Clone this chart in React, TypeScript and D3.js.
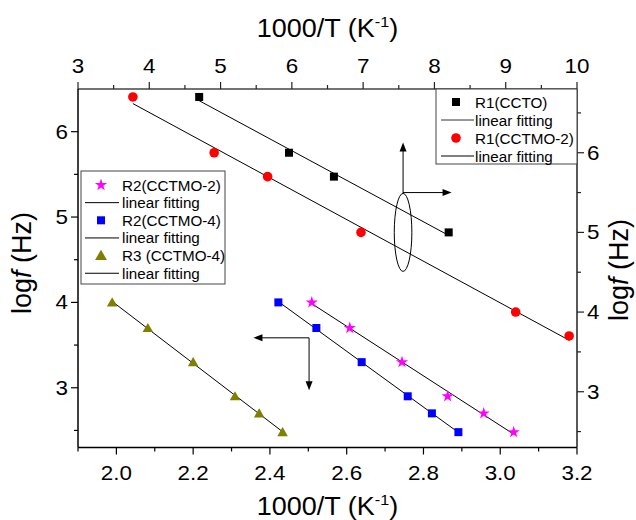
import React from "react";
import * as d3 from "d3";

// R1 relaxations: plotted against the top (1000/T) and right (log f) axes
const r1CctoX = [4.7, 5.96, 6.59, 8.2];
const r1CctoY = [6.7, 6.0, 5.7, 5.0];
const r1Cctmo2X = [3.77, 4.91, 5.66, 6.97, 9.14, 9.89];
const r1Cctmo2Y = [6.7, 6.0, 5.7, 5.0, 4.0, 3.7];

// R2 / R3 relaxations: plotted against the bottom (1000/T) and left (log f) axes
const r2Cctmo2X = [2.509, 2.608, 2.744, 2.863, 2.957, 3.035];
const r2Cctmo4X = [2.422, 2.521, 2.639, 2.759, 2.822, 2.891];
const r3Cctmo4X = [1.989, 2.082, 2.2, 2.309, 2.372, 2.433];
const lowLogF = [4.0, 3.7, 3.3, 2.9, 2.7, 2.48];

const bottomTicks = [2.0, 2.2, 2.4, 2.6, 2.8, 3.0, 3.2];
const bottomMinor = [1.9, 2.1, 2.3, 2.5, 2.7, 2.9, 3.1];
const topTicks = [3, 4, 5, 6, 7, 8, 9, 10];
const topMinor = [3.5, 4.5, 5.5, 6.5, 7.5, 8.5, 9.5];
const leftTicks = [3, 4, 5, 6];
const leftMinor = [2.5, 3.5, 4.5, 5.5];
const rightTicks = [3, 4, 5, 6];
const rightMinor = [2.5, 3.5, 4.5, 5.5, 6.5];

const legendHigh = ["R1(CCTO)", "linear fitting", "R1(CCTMO-2)", "linear fitting"];
const legendLow = [
  "R2(CCTMO-2)",
  "linear fitting",
  "R2(CCTMO-4)",
  "linear fitting",
  "R3 (CCTMO-4)",
  "linear fitting",
];

const W = 636;
const H = 520;
const L = 78;
const R = 577;
const T = 89;
const B = 447.5;
const FONT = "'Liberation Sans', Arial, Helvetica, sans-serif";

const xBottom = d3.scaleLinear().domain([1.9, 3.2]).range([L, R]);
const xTop = d3.scaleLinear().domain([3, 10]).range([L, R]);
const yLeft = d3.scaleLinear().domain([2.3, 6.5]).range([B, T]);
const yRight = d3.scaleLinear().domain([2.3, 6.8]).range([B, T]);

function fit(xs: number[], ys: number[]) {
  const mx = d3.mean(xs)!;
  const my = d3.mean(ys)!;
  let num = 0;
  let den = 0;
  xs.forEach((x, i) => {
    num += (x - mx) * (ys[i] - my);
    den += (x - mx) * (x - mx);
  });
  const k = num / den;
  const b = my - k * mx;
  const [x0, x1] = d3.extent(xs) as [number, number];
  return [
    [x0, k * x0 + b],
    [x1, k * x1 + b],
  ];
}

const COL = {
  black: "#000000",
  red: "#ff0000",
  magenta: "#ff00ff",
  blue: "#0000ff",
  olive: "#808000",
};

const starPath = d3.symbol(d3.symbolStar, 46)()!;
const triPath = d3.symbol(d3.symbolTriangle, 48)()!;
const triLegendPath = d3.symbol(d3.symbolTriangle, 62)()!;

// Text drawn slightly wider than the stock face
function SText({
  x,
  y,
  sx = 1.1,
  anchor = "start",
  children,
  size,
}: {
  x: number;
  y: number;
  sx?: number;
  anchor?: string;
  children: any;
  size?: number;
}) {
  return (
    <g transform={`translate(${x},${y}) scale(${sx},1)`}>
      <text x={0} y={0} textAnchor={anchor} fontSize={size}>
        {children}
      </text>
    </g>
  );
}

function Marker({ kind, x, y, color }: { kind: string; x: number; y: number; color: string }) {
  if (kind === "square")
    return <rect x={x - 4} y={y - 4} width={8} height={8} fill={color} />;
  if (kind === "circle") return <circle cx={x} cy={y} r={4.8} fill={color} />;
  if (kind === "star")
    return <path d={starPath} transform={`translate(${x},${y})`} fill={color} />;
  return <path d={triPath} transform={`translate(${x},${y + 1})`} fill={color} />;
}

function FitLine({ pts, sx, sy }: { pts: number[][]; sx: any; sy: any }) {
  return (
    <line
      x1={sx(pts[0][0])}
      y1={sy(pts[0][1])}
      x2={sx(pts[1][0])}
      y2={sy(pts[1][1])}
      stroke="#000"
      strokeWidth={1}
    />
  );
}

export default function App() {
  const high = [
    { xs: r1CctoX, ys: r1CctoY, kind: "square", color: COL.black },
    { xs: r1Cctmo2X, ys: r1Cctmo2Y, kind: "circle", color: COL.red },
  ];
  const low = [
    { xs: r2Cctmo2X, ys: lowLogF, kind: "star", color: COL.magenta },
    { xs: r2Cctmo4X, ys: lowLogF, kind: "square", color: COL.blue },
    { xs: r3Cctmo4X, ys: lowLogF, kind: "triangle", color: COL.olive },
  ];

  // annotation arrows, given in data units of their axes
  const ell = { cx: xTop(7.56), cy: yRight(5.0), rx: 8.8, ry: 39 };
  const upTo = yRight(6.13);
  const rightTo = xTop(8.24);
  const hY = yRight(5.5);
  const cornerX = xBottom(2.502);
  const cornerY = yLeft(3.585);
  const leftTo = xBottom(2.357);
  const downTo = yLeft(2.97);

  const arrowHead = (x: number, y: number, dir: string) => {
    const l = 9;
    const w = 3.5;
    let p = "";
    if (dir === "up") p = `M${x},${y} L${x - w},${y + l} L${x + w},${y + l} Z`;
    if (dir === "down") p = `M${x},${y} L${x - w},${y - l} L${x + w},${y - l} Z`;
    if (dir === "right") p = `M${x},${y} L${x - l},${y - w} L${x - l},${y + w} Z`;
    if (dir === "left") p = `M${x},${y} L${x + l},${y - w} L${x + l},${y + w} Z`;
    return <path d={p} fill="#000" />;
  };

  const tickFont = 20;
  const tickSx = 1.12;
  const xTitleFont = 25;
  const yTitleFont = 27;
  const legFont = 14.5;
  const legSx = 1.05;

  const xTitle = (y: number) => (
    <SText x={(L + R) / 2} y={y} sx={1.08} anchor="middle" size={xTitleFont}>
      1000/T (K
      <tspan fontSize={15} dy={-10}>-1</tspan>
      <tspan dy={10}>)</tspan>
    </SText>
  );

  return (
    <svg
      width={W}
      height={H}
      style={{ position: "absolute", left: 0, top: 0, background: "#fff" }}
      fontFamily={FONT}
    >
      <rect x={0} y={0} width={W} height={H} fill="#fff" />

      {/* fitted lines */}
      {high.map((s, i) => (
        <FitLine key={"hf" + i} pts={fit(s.xs, s.ys)} sx={xTop} sy={yRight} />
      ))}
      {low.map((s, i) => (
        <FitLine key={"lf" + i} pts={fit(s.xs, s.ys)} sx={xBottom} sy={yLeft} />
      ))}

      {/* data points */}
      {high.map((s, i) =>
        s.xs.map((x, j) => (
          <Marker key={`h${i}-${j}`} kind={s.kind} color={s.color} x={xTop(x)} y={yRight(s.ys[j])} />
        ))
      )}
      {low.map((s, i) =>
        s.xs.map((x, j) => (
          <Marker key={`l${i}-${j}`} kind={s.kind} color={s.color} x={xBottom(x)} y={yLeft(s.ys[j])} />
        ))
      )}

      {/* axis-assignment annotations */}
      <g stroke="#000" strokeWidth={1} fill="none">
        <ellipse cx={ell.cx} cy={ell.cy} rx={ell.rx} ry={ell.ry} />
        <line x1={ell.cx} y1={ell.cy - ell.ry} x2={ell.cx} y2={upTo + 6} />
        <line x1={ell.cx} y1={hY} x2={rightTo - 6} y2={hY} />
        <line x1={cornerX} y1={cornerY} x2={leftTo + 6} y2={cornerY} />
        <line x1={cornerX} y1={cornerY} x2={cornerX} y2={downTo - 6} />
      </g>
      {arrowHead(ell.cx, upTo, "up")}
      {arrowHead(rightTo, hY, "right")}
      {arrowHead(leftTo, cornerY, "left")}
      {arrowHead(cornerX, downTo, "down")}

      {/* axes */}
      <g fontSize={tickFont} fill="#000">
        {/* bottom */}
        <line x1={L} y1={B} x2={R} y2={B} stroke="#000" strokeWidth={1.5} />
        {bottomTicks.map((t) => (
          <g key={"bt" + t}>
            <line x1={xBottom(t)} y1={B} x2={xBottom(t)} y2={B + 7} stroke="#000" strokeWidth={1.2} />
            <SText x={xBottom(t)} y={B + 32} sx={tickSx} anchor="middle">
              {t.toFixed(1)}
            </SText>
          </g>
        ))}
        {bottomMinor.map((t) => (
          <line key={"bm" + t} x1={xBottom(t)} y1={B} x2={xBottom(t)} y2={B + 4} stroke="#000" strokeWidth={1.2} />
        ))}

        {/* top */}
        <line x1={L} y1={T} x2={R} y2={T} stroke="#444" strokeWidth={1.5} />
        {topTicks.map((t) => (
          <g key={"tt" + t}>
            <line x1={xTop(t)} y1={T} x2={xTop(t)} y2={T - 7} stroke="#222" strokeWidth={1.2} />
            <SText x={xTop(t)} y={T - 16} sx={tickSx} anchor="middle">
              {t}
            </SText>
          </g>
        ))}
        {topMinor.map((t) => (
          <line key={"tm" + t} x1={xTop(t)} y1={T} x2={xTop(t)} y2={T - 4} stroke="#222" strokeWidth={1.2} />
        ))}

        {/* left */}
        <line x1={L} y1={T} x2={L} y2={B} stroke="#000" strokeWidth={1.5} />
        {leftTicks.map((t) => (
          <g key={"lt" + t}>
            <line x1={L} y1={yLeft(t)} x2={L - 7} y2={yLeft(t)} stroke="#000" strokeWidth={1.2} />
            <SText x={L - 10} y={yLeft(t) + 7} sx={tickSx} anchor="end">
              {t}
            </SText>
          </g>
        ))}
        {leftMinor.map((t) => (
          <line key={"lm" + t} x1={L} y1={yLeft(t)} x2={L - 4} y2={yLeft(t)} stroke="#000" strokeWidth={1.2} />
        ))}

        {/* right */}
        <line x1={R} y1={T} x2={R} y2={B} stroke="#222" strokeWidth={1.5} />
        {rightTicks.map((t) => (
          <g key={"rt" + t}>
            <line x1={R} y1={yRight(t)} x2={R + 7} y2={yRight(t)} stroke="#222" strokeWidth={1.2} />
            <SText x={R + 10} y={yRight(t) + 7} sx={tickSx} anchor="start">
              {t}
            </SText>
          </g>
        ))}
        {rightMinor.map((t) => (
          <line key={"rm" + t} x1={R} y1={yRight(t)} x2={R + 4} y2={yRight(t)} stroke="#222" strokeWidth={1.2} />
        ))}
      </g>

      {/* axis titles */}
      <g fill="#000">
        {xTitle(37)}
        {xTitle(515)}
        <text transform={`translate(31,263) rotate(-90)`} textAnchor="middle" fontSize={yTitleFont}>
          log<tspan fontStyle="italic">f</tspan> (Hz)
        </text>
        <text transform={`translate(628,270) rotate(-90)`} textAnchor="middle" fontSize={yTitleFont}>
          log<tspan fontStyle="italic">f</tspan> (Hz)
        </text>
      </g>

      {/* legend: R1 relaxations */}
      <g fontSize={legFont}>
        <rect x={436} y={T} width={R - 436} height={164 - T} fill="#fff" stroke="#444" strokeWidth={1} />
        {legendHigh.map((lab, i) => {
          const y = 102 + i * 18;
          const s = high[Math.floor(i / 2)];
          return (
            <g key={"lh" + i}>
              {i % 2 === 0 ? (
                <Marker kind={s.kind} color={s.color} x={456} y={y} />
              ) : (
                <line x1={441} y1={y} x2={474} y2={y} stroke={i === 1 ? "#333" : "#000"} strokeWidth={1} />
              )}
              <SText x={475} y={y + 5.5} sx={legSx}>
                {lab}
              </SText>
            </g>
          );
        })}
      </g>

      {/* legend: R2 / R3 relaxations */}
      <g fontSize={legFont}>
        <rect x={81} y={171} width={144} height={113} fill="#fff" stroke="#444" strokeWidth={1} />
        {legendLow.map((lab, i) => {
          const y = 185 + i * 17.65;
          const s = low[Math.floor(i / 2)];
          return (
            <g key={"ll" + i}>
              {i % 2 === 0 ? (
                s.kind === "triangle" ? (
                  <path d={triLegendPath} transform={`translate(101,${y + 1})`} fill={s.color} />
                ) : (
                  <Marker kind={s.kind} color={s.color} x={101} y={y} />
                )
              ) : (
                <line x1={85} y1={y} x2={119} y2={y} stroke="#000" strokeWidth={1} />
              )}
              <SText x={122} y={y + 5.5} sx={legSx}>
                {lab}
              </SText>
            </g>
          );
        })}
      </g>
    </svg>
  );
}
